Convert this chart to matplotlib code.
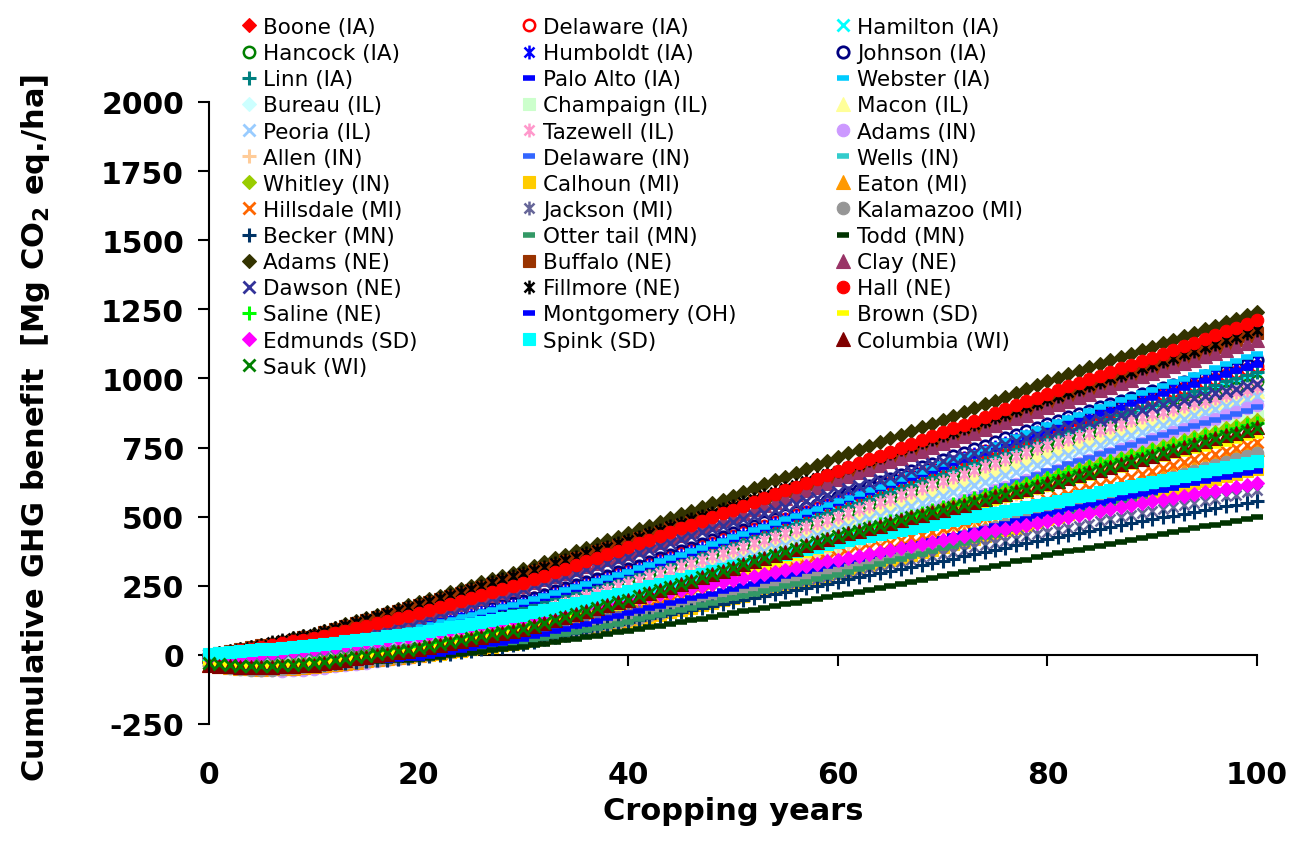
import matplotlib
matplotlib.use("Agg")
import matplotlib.pyplot as plt
from matplotlib.path import Path

plt.rcParams['font.family'] = ['DejaVu Sans']
plt.rcParams['axes.unicode_minus'] = False
plt.rcParams['mathtext.default'] = 'bf'

# ---------------- data (cumulative GHG benefit, Mg CO2 eq./ha, years 0..100) ----------------
years = list(range(0, 101))

boone_ia = [0,2,5,8,11,15,18,21,24,27,30,37,44,51,58,65,72,79,86,93,100,108,116,124,132,140,148,156,164,172,180,191,202,213,224,235,246,257,268,279,290,303,315,328,340,353,365,378,390,403,415,428,441,454,467,480,493,506,519,532,545,558,570,583,595,608,620,633,645,658,670,683,696,709,722,735,748,761,774,787,800,812,823,835,846,858,869,881,892,904,915,927,939,951,963,975,987,999,1011,1023,1035]
delaware_ia = [0,3,6,10,13,17,21,25,29,32,35,43,50,58,65,73,80,88,95,103,110,119,127,136,144,153,161,170,178,187,195,206,217,228,239,250,261,272,283,294,305,318,330,343,355,368,380,393,405,418,430,443,455,468,480,493,505,518,530,543,555,568,581,594,607,620,633,646,659,672,685,698,711,724,737,750,763,776,789,802,815,827,838,850,861,873,884,896,907,919,930,942,953,965,976,988,999,1011,1022,1034,1045]
hamilton_ia = [-10,-10,-9,-7,-5,-3,0,2,5,7,10,17,23,30,36,43,49,56,62,69,75,84,92,101,109,118,126,135,143,152,160,171,182,193,204,215,226,237,248,259,270,282,294,306,318,330,342,354,366,378,390,403,415,428,440,453,465,478,490,503,515,528,540,553,565,578,590,603,615,628,640,653,665,678,690,703,715,728,740,753,765,777,789,801,813,825,837,849,861,873,885,897,909,921,933,945,957,969,981,993,1005]
hancock_ia = [-10,-11,-11,-10,-9,-7,-5,-3,0,2,5,11,17,23,29,35,41,47,53,59,65,74,82,91,99,108,116,125,133,142,150,161,172,183,194,205,216,227,238,249,260,272,284,296,308,320,332,344,356,368,380,393,405,418,430,443,455,468,480,493,505,517,529,541,553,565,577,589,601,613,625,638,650,663,675,688,700,713,725,738,750,762,774,786,798,810,822,834,846,858,870,882,894,906,918,930,942,954,966,978,990]
humboldt_ia = [0,3,6,10,13,17,21,25,29,32,35,42,49,56,63,70,77,84,91,98,105,114,122,131,139,148,156,165,173,182,190,201,212,223,234,245,256,267,278,289,300,313,325,338,350,363,375,388,400,413,425,438,451,464,477,490,503,516,529,542,555,568,581,594,607,620,633,646,659,672,685,699,712,726,739,753,766,780,793,807,820,833,845,858,870,883,895,908,920,933,945,958,970,983,995,1008,1020,1033,1045,1058,1070]
johnson_ia = [0,3,7,11,15,19,24,28,32,36,40,48,55,63,70,78,85,93,100,108,115,123,131,139,147,155,163,171,179,187,195,207,218,230,241,253,264,276,287,299,310,323,336,349,362,375,388,401,414,427,440,453,466,479,492,505,518,531,544,557,570,584,597,611,624,638,651,665,678,692,705,718,731,744,757,770,783,796,809,822,835,847,859,871,883,895,907,919,931,943,955,966,977,988,999,1010,1021,1032,1043,1054,1065]
linn_ia = [-5,-4,-2,0,3,6,9,12,15,18,20,27,33,40,46,53,59,66,72,79,85,94,102,111,119,128,136,145,153,162,170,181,192,203,214,225,236,247,258,269,280,292,304,316,328,340,352,364,376,388,400,413,425,438,450,463,475,488,500,513,525,538,551,564,577,590,603,616,629,642,655,668,680,693,705,718,730,743,755,768,780,793,805,818,830,843,855,868,880,893,905,917,929,941,953,965,977,989,1001,1013,1025]
palo_alto_ia = [0,2,5,8,11,15,18,21,24,27,30,37,44,51,58,65,72,79,86,93,100,109,117,126,134,143,151,160,168,177,185,196,207,218,229,240,251,262,273,284,295,308,320,333,345,358,370,383,395,408,420,433,446,459,472,485,498,511,524,537,550,563,576,589,602,615,628,641,654,667,680,693,706,719,732,745,758,771,784,797,810,822,834,846,858,870,882,894,906,918,930,942,954,966,978,990,1002,1014,1026,1038,1050]
webster_ia = [0,3,6,9,13,17,21,25,29,32,35,42,48,55,61,68,74,81,87,94,100,109,118,127,136,145,154,163,172,181,190,201,212,223,234,245,256,267,278,289,300,313,325,338,350,363,375,388,400,413,425,438,451,464,477,490,503,516,529,542,555,569,582,596,609,623,636,650,663,677,690,704,718,732,746,760,774,788,802,816,830,843,856,869,882,895,908,921,934,947,960,973,986,999,1012,1025,1038,1051,1064,1077,1090]
bureau_il = [-15,-19,-22,-24,-24,-23,-21,-19,-16,-13,-10,-5,1,7,12,18,23,29,34,40,45,53,61,69,77,85,93,101,109,117,125,136,147,158,169,180,191,202,213,224,235,247,258,270,281,293,304,316,327,339,350,362,374,386,398,410,422,434,446,458,470,482,494,506,518,530,542,554,566,578,590,603,615,628,640,653,665,678,690,703,715,727,738,750,761,773,784,796,807,819,830,841,852,863,874,885,896,907,918,929,940]
champaign_il = [-20,-27,-33,-37,-40,-41,-40,-38,-34,-30,-25,-21,-17,-13,-9,-5,-1,3,7,11,15,23,30,38,45,53,60,68,75,83,90,99,108,117,126,135,144,153,162,171,180,191,201,212,222,233,243,254,264,275,285,296,307,318,329,340,351,362,373,384,395,407,418,430,441,453,464,476,487,499,510,522,533,545,556,568,579,591,602,614,625,637,649,661,673,685,697,709,721,733,745,757,769,781,793,805,817,829,841,853,865]
macon_il = [-15,-18,-20,-21,-20,-18,-16,-13,-10,-8,-5,1,6,12,17,23,28,34,39,45,50,59,67,76,84,93,101,110,118,127,135,146,157,168,179,190,201,212,223,234,245,257,269,281,293,305,317,329,341,353,365,377,389,401,413,425,437,449,461,473,485,498,510,523,535,548,560,573,585,598,610,623,635,648,660,673,685,698,710,723,735,747,758,770,781,793,804,816,827,839,850,861,871,882,892,903,913,924,934,945,955]
peoria_il = [-15,-20,-24,-27,-28,-27,-25,-22,-18,-14,-10,-5,0,5,10,15,20,25,30,35,40,48,56,64,72,80,88,96,104,112,120,131,141,152,162,173,183,194,204,215,225,237,248,260,271,283,294,306,317,329,340,352,363,375,386,398,409,421,432,444,455,467,479,491,503,515,527,539,551,563,575,588,600,613,625,638,650,663,675,688,700,712,724,736,748,760,772,784,796,808,820,832,843,855,866,878,889,901,912,924,935]
tazewell_il = [-10,-12,-13,-13,-12,-10,-8,-6,-4,-2,0,5,11,16,22,27,33,38,44,49,55,64,72,81,89,98,106,115,123,132,140,152,164,176,188,200,212,224,236,248,260,272,284,296,308,320,332,344,356,368,380,392,404,416,428,440,452,464,476,488,500,513,526,539,552,565,578,591,604,617,630,643,656,669,682,695,708,721,734,747,760,771,782,793,804,815,826,837,848,859,870,880,890,900,910,920,930,940,950,960,970]
adams_in = [-20,-30,-38,-45,-50,-54,-56,-57,-56,-53,-50,-46,-41,-37,-32,-28,-23,-19,-14,-10,-5,4,13,22,31,40,49,58,67,76,85,96,106,117,127,138,148,159,169,180,190,201,212,223,234,245,256,267,278,289,300,312,323,335,346,358,369,381,392,404,415,427,439,451,463,475,487,499,511,523,535,547,559,571,583,595,607,619,631,643,655,668,680,693,705,718,730,743,755,768,780,793,805,818,830,843,855,868,880,893,905]
allen_in = [-25,-31,-36,-40,-42,-43,-42,-40,-37,-34,-30,-26,-22,-18,-14,-10,-6,-2,2,6,10,17,24,31,38,45,52,59,66,73,80,89,98,107,116,125,134,143,152,161,170,181,191,202,212,223,233,244,254,265,275,286,297,308,319,330,341,352,363,374,385,397,408,420,431,443,454,466,477,489,500,512,523,535,546,558,569,581,592,604,615,627,639,651,663,675,687,699,711,723,735,747,759,771,783,795,807,819,831,843,855]
delaware_in = [-20,-26,-31,-35,-37,-38,-37,-35,-32,-29,-25,-21,-16,-12,-7,-3,2,6,11,15,20,28,36,44,52,60,68,76,84,92,100,110,119,129,138,148,157,167,176,186,195,206,216,227,237,248,258,269,279,290,300,311,322,333,344,355,366,377,388,399,410,422,434,446,458,470,482,494,506,518,530,544,557,571,584,598,611,625,638,652,665,677,689,701,713,725,737,749,761,773,785,796,807,818,829,840,851,862,873,884,895]
wells_in = [-30,-35,-39,-42,-44,-45,-44,-43,-41,-38,-35,-31,-28,-24,-21,-17,-14,-10,-7,-3,0,6,11,17,22,28,33,39,44,50,55,63,71,79,87,95,103,111,119,127,135,144,153,162,171,180,189,198,207,216,225,235,244,254,263,273,282,292,301,311,320,330,340,350,360,370,380,390,400,410,420,430,440,450,460,470,480,490,500,510,520,530,539,549,558,568,577,587,596,606,615,625,634,644,653,663,672,682,691,701,710]
whitley_in = [-25,-30,-34,-37,-38,-38,-37,-35,-32,-29,-25,-20,-15,-10,-5,0,5,10,15,20,25,33,40,48,55,63,70,78,85,93,100,109,118,127,136,145,154,163,172,181,190,201,212,223,234,245,256,267,278,289,300,312,324,336,348,360,372,384,396,408,420,431,442,453,464,475,486,497,508,519,530,541,552,563,574,585,596,607,618,629,640,651,661,672,682,693,703,714,724,735,745,756,766,777,787,798,808,819,829,840,850]
calhoun_mi = [-30,-35,-39,-42,-44,-45,-44,-42,-40,-38,-35,-32,-29,-26,-23,-20,-17,-14,-11,-8,-5,0,5,10,15,20,25,30,35,40,45,53,60,68,75,83,90,98,105,113,120,129,137,146,154,163,171,180,188,197,205,214,223,232,241,250,259,268,277,286,295,305,314,324,333,343,352,362,371,381,390,400,410,420,430,440,450,460,470,480,490,500,509,519,528,538,547,557,566,576,585,594,603,611,620,629,638,647,655,664,673]
eaton_mi = [-35,-40,-44,-47,-49,-50,-49,-48,-46,-43,-40,-36,-32,-28,-24,-20,-16,-12,-8,-4,0,6,11,17,22,28,33,39,44,50,55,63,71,79,87,95,103,111,119,127,135,144,153,162,171,180,189,198,207,216,225,235,244,254,263,273,282,292,301,311,320,330,340,350,360,370,380,390,400,410,420,431,441,452,462,473,483,494,504,515,525,536,547,558,569,580,591,602,613,624,635,646,657,668,679,690,701,712,723,734,745]
hillsdale_mi = [-30,-35,-40,-43,-45,-46,-45,-43,-41,-38,-35,-31,-27,-23,-19,-15,-11,-7,-3,1,5,12,18,25,31,38,44,51,57,64,70,79,87,96,104,113,121,130,138,147,155,165,175,185,195,205,215,225,235,245,255,265,275,285,295,305,315,325,335,345,355,365,375,385,395,405,415,425,435,445,455,466,476,487,497,508,518,529,539,550,560,571,581,592,602,613,623,634,644,655,665,676,686,697,707,718,728,739,749,760,770]
jackson_mi = [-20,-24,-27,-28,-27,-25,-22,-19,-16,-13,-10,-6,-2,2,6,10,14,18,22,26,30,36,42,48,54,60,66,72,78,84,90,96,102,108,114,120,126,132,138,144,150,157,163,170,176,183,189,196,202,209,215,223,230,238,245,253,260,268,275,283,290,298,305,313,320,328,335,343,350,358,365,373,381,389,397,405,413,421,429,437,445,453,460,468,475,483,490,498,505,513,520,528,535,543,550,558,565,573,580,588,595]
kalamazoo_mi = [-35,-41,-46,-50,-53,-54,-53,-51,-48,-44,-40,-37,-33,-30,-26,-23,-19,-16,-12,-9,-5,1,6,12,17,23,28,34,39,45,50,58,65,73,80,88,95,103,110,118,125,134,143,152,161,170,179,188,197,206,215,225,234,244,253,263,272,282,291,301,310,320,330,340,350,360,370,380,390,400,410,421,431,442,452,463,473,484,494,505,515,526,536,547,557,568,578,589,599,610,620,631,642,653,664,675,686,697,708,719,730]
becker_mn = [-25,-30,-34,-37,-39,-40,-40,-39,-38,-37,-35,-33,-30,-28,-25,-23,-20,-18,-15,-13,-10,-5,0,5,10,15,20,25,30,35,40,48,56,64,72,80,88,96,104,112,120,127,134,141,148,155,162,169,176,183,190,198,205,213,220,228,235,243,250,258,265,273,280,288,295,303,310,318,325,333,340,348,356,364,372,380,388,396,404,412,420,427,434,441,448,455,462,469,476,483,490,497,503,510,517,524,530,537,544,550,557]
otter_tail_mn = [-30,-34,-38,-41,-43,-44,-43,-41,-39,-37,-35,-32,-29,-26,-23,-20,-17,-14,-11,-8,-5,0,5,10,15,20,25,30,35,40,45,53,60,68,75,83,90,98,105,113,120,129,137,146,154,163,171,180,188,197,205,214,222,231,239,248,256,265,273,282,290,300,309,319,328,338,347,357,366,376,385,395,405,415,425,435,445,455,465,475,485,495,505,515,525,535,545,555,565,575,585,595,604,614,623,633,642,652,661,671,680]
todd_mn = [-20,-25,-30,-34,-37,-39,-40,-40,-39,-37,-35,-33,-31,-29,-27,-25,-23,-21,-19,-17,-15,-10,-6,-1,3,8,12,17,21,26,30,36,41,47,53,59,64,70,76,81,87,93,100,106,112,119,125,131,137,144,150,157,163,170,176,183,189,196,202,209,215,222,229,236,243,250,257,264,271,278,285,293,300,308,315,323,330,338,345,353,360,367,374,381,388,395,402,409,416,423,430,437,444,451,458,465,471,478,485,492,499]
adams_ne = [0,6,13,20,28,36,44,52,60,67,75,87,98,110,121,133,144,156,167,179,190,202,214,226,238,250,262,274,286,298,310,323,336,349,362,375,388,401,414,427,440,454,467,481,494,508,521,535,548,562,575,589,603,617,631,645,659,673,687,701,715,729,742,756,769,783,796,810,823,837,850,864,878,892,906,920,934,948,962,976,990,1003,1015,1028,1040,1053,1065,1078,1090,1103,1115,1128,1140,1153,1165,1178,1190,1203,1215,1228,1240]
buffalo_ne = [0,6,13,20,27,34,41,48,55,63,70,81,92,103,114,125,136,147,158,169,180,191,202,213,224,235,246,257,268,279,290,302,314,326,338,350,362,374,386,398,410,422,434,446,458,470,482,494,506,518,530,543,555,568,580,593,605,618,630,643,655,668,680,693,705,718,730,743,755,768,780,793,806,819,832,845,858,871,884,897,910,923,935,948,960,973,985,998,1010,1023,1035,1048,1061,1074,1087,1100,1113,1126,1139,1152,1165]
clay_ne = [0,4,8,13,18,23,29,35,41,45,50,59,68,77,86,95,104,113,122,131,140,151,162,173,184,195,206,217,228,239,250,262,274,286,298,310,322,334,346,358,370,383,396,409,422,435,448,461,474,487,500,514,527,541,554,568,581,595,608,622,635,648,661,674,687,700,713,726,739,752,765,778,791,804,817,830,843,856,869,882,895,908,920,933,945,958,970,983,995,1008,1020,1032,1044,1056,1068,1080,1092,1104,1116,1128,1140]
dawson_ne = [0,4,8,13,18,23,29,35,41,45,50,58,66,74,82,90,98,106,114,122,130,141,152,163,174,185,196,207,218,229,240,252,263,275,286,298,309,321,332,344,355,368,380,393,405,418,430,443,455,468,480,491,502,513,524,535,546,557,568,579,590,601,612,623,634,645,656,667,678,689,700,711,721,732,742,753,763,774,784,795,805,814,823,832,841,850,859,868,877,886,895,904,912,921,929,938,946,955,963,972,980]
fillmore_ne = [0,7,14,21,29,37,45,53,60,68,75,86,97,108,119,130,141,152,163,174,185,196,207,218,229,240,251,262,273,284,295,307,319,331,343,355,367,379,391,403,415,428,440,453,465,478,490,503,515,528,540,553,565,578,590,603,615,628,640,653,665,678,691,704,717,730,743,756,769,782,795,808,821,834,847,860,873,886,899,912,925,938,950,963,975,988,1000,1013,1025,1038,1050,1063,1075,1088,1100,1113,1125,1138,1150,1163,1175]
hall_ne = [0,5,10,16,22,29,36,43,50,55,60,69,78,87,96,105,114,123,132,141,150,161,172,183,194,205,216,227,238,249,260,273,286,299,312,325,338,351,364,377,390,404,417,431,444,458,471,485,498,512,525,539,553,567,581,595,609,623,637,651,665,679,693,707,721,735,749,763,777,791,805,819,833,847,861,875,889,903,917,931,945,958,971,984,997,1010,1023,1036,1049,1062,1075,1089,1102,1116,1129,1143,1156,1170,1183,1197,1210]
saline_ne = [-20,-25,-29,-32,-33,-33,-32,-30,-27,-24,-20,-15,-10,-5,0,5,10,15,20,25,30,38,46,54,62,70,78,86,94,102,110,119,128,137,146,155,164,173,182,191,200,211,222,233,244,255,266,277,288,299,310,322,334,346,358,370,382,394,406,418,430,441,451,462,472,483,493,504,514,525,535,546,556,567,577,588,598,609,619,630,640,650,660,670,680,690,700,710,720,730,740,750,760,770,780,790,800,810,820,830,840]
montgomery_oh = [-30,-35,-40,-44,-46,-47,-46,-44,-41,-38,-35,-33,-30,-28,-25,-23,-20,-18,-15,-13,-10,-3,4,10,17,24,31,38,44,51,58,67,76,86,95,104,113,122,132,141,150,159,168,177,186,195,204,213,222,231,240,249,258,267,276,285,294,303,312,321,330,339,348,357,366,375,384,393,402,411,420,429,438,447,456,465,474,483,492,501,510,518,526,534,542,550,558,566,574,582,590,598,605,613,620,628,635,643,650,658,665]
brown_sd = [-30,-34,-37,-39,-40,-40,-39,-37,-35,-33,-30,-25,-21,-16,-12,-8,-3,1,6,10,15,22,29,36,43,50,57,64,71,78,85,95,104,114,123,133,142,152,161,171,180,191,201,212,222,233,243,254,264,275,285,296,307,318,329,340,351,362,373,384,395,406,416,427,437,448,458,469,479,490,500,510,520,530,540,550,560,570,580,590,600,610,620,630,640,650,660,670,680,690,700,709,718,728,737,746,755,764,774,783,792]
edmunds_sd = [-10,-8,-6,-3,0,3,6,9,13,16,20,25,30,35,40,45,50,55,60,65,70,77,83,90,96,103,109,116,122,129,135,142,148,155,161,168,174,181,187,194,200,207,214,221,228,235,242,249,256,263,270,278,285,293,300,308,315,323,330,338,345,352,359,366,373,380,387,394,401,408,415,422,429,436,443,450,457,464,471,478,485,492,499,506,513,520,527,534,541,548,555,562,568,575,581,588,594,601,607,614,620]
spink_sd = [5,8,11,14,17,20,23,26,29,32,35,40,44,49,53,58,62,67,71,76,80,87,93,100,106,113,119,126,132,139,145,154,162,171,179,188,196,205,213,222,230,239,248,257,266,275,284,293,302,311,320,329,338,347,356,365,374,383,392,401,410,417,424,431,438,445,452,459,466,473,480,487,494,501,508,515,522,529,536,543,550,558,565,573,580,588,595,603,610,618,625,633,640,648,656,664,671,679,687,694,702]
columbia_wi = [-35,-39,-42,-44,-45,-45,-44,-42,-40,-38,-35,-30,-24,-19,-13,-8,-2,3,9,14,20,28,35,43,50,58,65,73,80,88,95,106,116,127,137,148,158,169,179,190,200,212,223,235,246,258,269,281,292,304,315,327,338,350,361,373,384,396,407,419,430,440,449,459,468,478,487,497,506,516,525,535,544,554,563,573,582,592,601,611,620,630,640,650,660,670,680,690,700,710,720,731,741,752,762,773,783,794,804,815,825]
sauk_wi = [-30,-34,-37,-39,-40,-40,-39,-37,-35,-33,-30,-25,-19,-14,-8,-3,3,8,14,19,25,32,39,46,53,60,67,74,81,88,95,106,116,127,137,148,158,169,179,190,200,212,223,235,246,258,269,281,292,304,315,327,338,350,361,373,384,396,407,419,430,440,449,459,468,478,487,497,506,516,525,534,543,552,561,570,579,588,597,606,615,626,636,647,657,668,678,689,699,710,720,730,740,750,760,770,780,790,800,810,820]

series_names = [
    "Boone (IA)", "Delaware (IA)", "Hamilton (IA)", "Hancock (IA)", "Humboldt (IA)",
    "Johnson (IA)", "Linn (IA)", "Palo Alto (IA)", "Webster (IA)", "Bureau (IL)",
    "Champaign (IL)", "Macon (IL)", "Peoria (IL)", "Tazewell (IL)", "Adams (IN)",
    "Allen (IN)", "Delaware (IN)", "Wells (IN)", "Whitley (IN)", "Calhoun (MI)",
    "Eaton (MI)", "Hillsdale (MI)", "Jackson (MI)", "Kalamazoo (MI)", "Becker (MN)",
    "Otter tail (MN)", "Todd (MN)", "Adams (NE)", "Buffalo (NE)", "Clay (NE)",
    "Dawson (NE)", "Fillmore (NE)", "Hall (NE)", "Saline (NE)", "Montgomery (OH)",
    "Brown (SD)", "Edmunds (SD)", "Spink (SD)", "Columbia (WI)", "Sauk (WI)",
]
series_values = [
    boone_ia, delaware_ia, hamilton_ia, hancock_ia, humboldt_ia,
    johnson_ia, linn_ia, palo_alto_ia, webster_ia, bureau_il,
    champaign_il, macon_il, peoria_il, tazewell_il, adams_in,
    allen_in, delaware_in, wells_in, whitley_in, calhoun_mi,
    eaton_mi, hillsdale_mi, jackson_mi, kalamazoo_mi, becker_mn,
    otter_tail_mn, todd_mn, adams_ne, buffalo_ne, clay_ne,
    dawson_ne, fillmore_ne, hall_ne, saline_ne, montgomery_oh,
    brown_sd, edmunds_sd, spink_sd, columbia_wi, sauk_wi,
]
bad = [n for n, v in zip(series_names, series_values) if len(v) != len(years)]
assert not bad, bad

x_ticks = [0, 20, 40, 60, 80, 100]
y_ticks = [-250, 0, 250, 500, 750, 1000, 1250, 1500, 1750, 2000]

# ---------------- styles ----------------
series_kinds = [
    "diamond", "ocircle", "x", "ocircle", "star",
    "hcircle", "plus", "dash", "dash", "diamond",
    "square", "tri", "x", "star", "circle",
    "plus", "dash", "dash", "diamond", "square",
    "tri", "x", "star", "circle", "plus",
    "dash", "dash", "diamond", "square", "tri",
    "x", "star", "circle", "plus", "dash",
    "dash", "diamond", "square", "tri", "x",
]
series_colors = [
    "#FF0000", "#FF0000", "#00FFFF", "#008000", "#0000FF",
    "#000080", "#008080", "#0000FF", "#00CCFF", "#CCFFFF",
    "#CCFFCC", "#FFFF99", "#99CCFF", "#FF99CC", "#CC99FF",
    "#FFCC99", "#3366FF", "#33CCCC", "#99CC00", "#FFCC00",
    "#FF9900", "#FF6600", "#666699", "#969696", "#003366",
    "#339966", "#003300", "#333300", "#993300", "#993366",
    "#333399", "#000000", "#FF0000", "#00FF00", "#0000FF",
    "#FFFF00", "#FF00FF", "#00FFFF", "#800000", "#008000",
]

star_path = Path([(0, -1), (0, 1), (-0.72, -0.72), (0.72, 0.72), (-0.72, 0.72), (0.72, -0.72)],
                 [Path.MOVETO, Path.LINETO, Path.MOVETO, Path.LINETO, Path.MOVETO, Path.LINETO])


def style(kind, color):
    if kind == "diamond":
        return dict(marker="D", ms=7.2, mfc=color, mec=color, mew=0.8)
    if kind == "square":
        return dict(marker="s", ms=8.2, mfc=color, mec=color, mew=0.8)
    if kind == "tri":
        return dict(marker="^", ms=9.6, mfc=color, mec=color, mew=0.8)
    if kind == "circle":
        return dict(marker="o", ms=9.0, mfc=color, mec=color, mew=0.8)
    if kind == "ocircle":
        return dict(marker="o", ms=8.2, mfc="white", mec=color, mew=1.8)
    if kind == "hcircle":
        return dict(marker="o", ms=8.2, mfc="none", mec=color, mew=2.0)
    if kind == "x":
        return dict(marker="x", ms=8.5, mec=color, mew=2.0)
    if kind == "plus":
        return dict(marker="+", ms=10.0, mec=color, mew=2.2)
    if kind == "star":
        return dict(marker=star_path, ms=10.0, mec=color, mew=1.8)
    return dict(marker="_", ms=9.0, mec=color, mew=4.0)


# ---------------- figure ----------------
fig = plt.figure(figsize=(13.07, 8.45), dpi=100)
ax = fig.add_axes([209 / 1307, 1 - 725 / 845, 1048 / 1307, 622 / 845])

handles = []
for name, vals, kind, color in zip(series_names, series_values, series_kinds, series_colors):
    ln, = ax.plot(years, vals, linestyle="none", label=name, clip_on=False, **style(kind, color))
    handles.append(ln)

ax.set_xlim(0, 100)
ax.set_ylim(-250, 2000)

# y axis
ax.set_yticks(y_ticks)
ax.set_yticklabels([str(v) for v in y_ticks], fontsize=21.5, fontweight="bold")
ax.tick_params(axis="y", direction="out", length=8, width=1.5, pad=10)
ax.spines["left"].set_linewidth(1.5)
ax.spines["top"].set_visible(False)
ax.spines["right"].set_visible(False)

# x labels at bottom, axis line at y = 0
ax.spines["bottom"].set_visible(False)
ax.set_xticks(x_ticks)
ax.set_xticklabels([str(v) for v in x_ticks], fontsize=21.5, fontweight="bold")
ax.tick_params(axis="x", length=0, pad=26)

ymin, ymax = ax.get_ylim()
sec = ax.secondary_xaxis((0 - ymin) / (ymax - ymin))
sec.set_xticks(x_ticks)
sec.tick_params(axis="x", direction="out", length=8, width=1.5, labelbottom=False, labeltop=False)
sec.spines["bottom"].set_linewidth(1.5)

ax.set_xlabel("Cropping years", fontsize=22, fontweight="bold", va="top")
ax.xaxis.set_label_coords(0.5, -0.115)
ax.set_ylabel("Cumulative GHG benefit  [Mg CO$_2$ eq./ha]", fontsize=22, fontweight="bold")
ax.yaxis.set_label_coords(-0.150, 0.477)

# legend: three columns, row-major order
col_left = [238, 518, 832]
for c in range(3):
    idx = list(range(c, len(handles), 3))
    fig.legend([handles[i] for i in idx], [series_names[i] for i in idx],
               loc="upper left", bbox_to_anchor=(col_left[c] / 1307, 1 - 18 / 845),
               frameon=False, borderpad=0, borderaxespad=0, handlelength=1.0,
               handletextpad=0.15, labelspacing=0.285, fontsize=15.5, numpoints=1)

fig.savefig("out.png", dpi=100)
